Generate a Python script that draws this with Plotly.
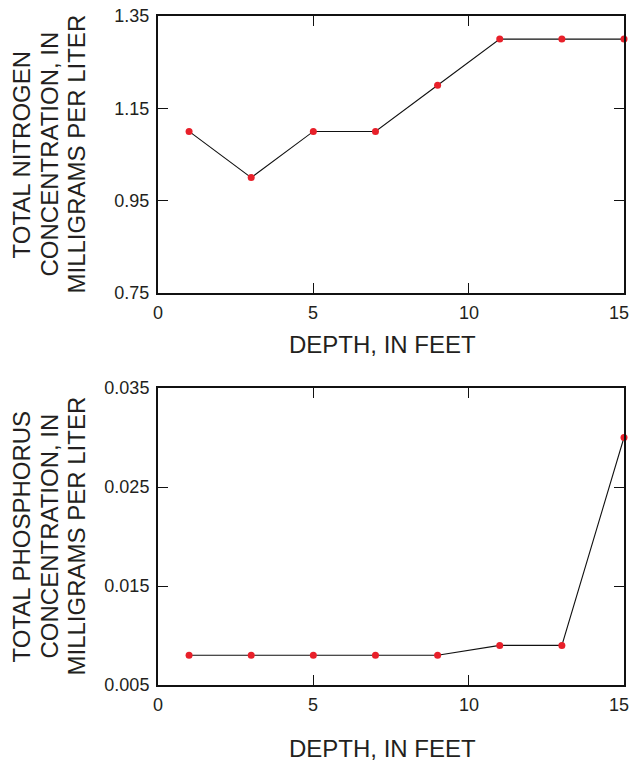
import plotly.graph_objects as go
from plotly.subplots import make_subplots

depth = [1, 3, 5, 7, 9, 11, 13, 15]
nitrogen = [1.1, 1.0, 1.1, 1.1, 1.2, 1.3, 1.3, 1.3]
phosphorus = [0.008, 0.008, 0.008, 0.008, 0.008, 0.009, 0.009, 0.030]

x_ticks = [0, 5, 10, 15]
x_labels = ["0", "5", "10", "15"]
n_ticks = [0.75, 0.95, 1.15, 1.35]
n_labels = ["0.75", "0.95", "1.15", "1.35"]
p_ticks = [0.005, 0.015, 0.025, 0.035]
p_labels = ["0.005", "0.015", "0.025", "0.035"]

x_title = "DEPTH, IN FEET"
n_title = ["TOTAL NITROGEN", "CONCENTRATION, IN", "MILLIGRAMS PER LITER"]
p_title = ["TOTAL PHOSPHORUS", "CONCENTRATION, IN", "MILLIGRAMS PER LITER"]

txt = "#231f20"
FONT = "Liberation Sans, Arial, Helvetica"
TICK_SIZE = 18
fig = make_subplots(rows=2, cols=1, vertical_spacing=0.1)

for row, y in [(1, nitrogen), (2, phosphorus)]:
    fig.add_trace(go.Scatter(
        x=depth, y=y, mode="lines+markers",
        line=dict(color="#111", width=1.1),
        marker=dict(color="#e8202a", size=7),
        cliponaxis=False, showlegend=False), row=row, col=1)

axis_common = dict(showline=True, linecolor="#111", linewidth=2, mirror="allticks",
                   ticks="inside", ticklen=10, tickwidth=1.2, tickcolor="#111",
                   showgrid=False, zeroline=False, automargin=False,
                   tickfont=dict(family=FONT, size=TICK_SIZE, color=txt))

fig.update_xaxes(**axis_common, range=[0, 15], tickvals=x_ticks, showticklabels=False)
fig.update_yaxes(**axis_common, row=1, col=1, range=[0.75, 1.35], tickvals=n_ticks,
                 ticktext=n_labels, ticklabelstandoff=3)
fig.update_yaxes(**axis_common, row=2, col=1, range=[0.005, 0.035], tickvals=p_ticks,
                 ticktext=p_labels, ticklabelstandoff=3)

annotations = []
for xr, yr, title_lines, xt_shift in [("x", "y", n_title, -51), ("x2", "y2", p_title, -63)]:
    # x tick labels
    for v, lab in zip(x_ticks, x_labels):
        last = v == x_ticks[-1]
        annotations.append(dict(
            x=v, xref=xr, y=0, yref=f"{yr} domain", text=lab, showarrow=False,
            xanchor="right" if last else "center", xshift=7 if last else 0,
            yanchor="top", yshift=-8,
            font=dict(family=FONT, size=TICK_SIZE, color=txt)))
    # x title
    annotations.append(dict(
        x=0.5, xref=f"{xr} domain", y=0, yref=f"{yr} domain", text=x_title,
        showarrow=False, xanchor="center", yanchor="middle", yshift=xt_shift, xshift=-9,
        font=dict(family=FONT, size=24, color=txt)))
    # y title lines
    for i, line in enumerate(title_lines):
        annotations.append(dict(
            x=0, xref="paper", y=0.5, yref=f"{yr} domain", text=line,
            showarrow=False, textangle=-90, xanchor="center", yanchor="middle",
            xshift=[-136, -108, -81][i],
            font=dict(family=FONT, size=24, color=txt)))

fig.update_layout(
    width=635, height=762,
    margin=dict(l=158, r=11, t=16, b=77),
    plot_bgcolor="white", paper_bgcolor="white",
    annotations=annotations,
)
fig.layout.yaxis.domain = [0.5859, 1.0]
fig.layout.yaxis2.domain = [0.0, 0.4439]

fig.write_html(
    "out.html",
    config={"displayModeBar": False},
    post_script="document.body.style.margin='0';document.body.style.overflow='hidden';",
)
